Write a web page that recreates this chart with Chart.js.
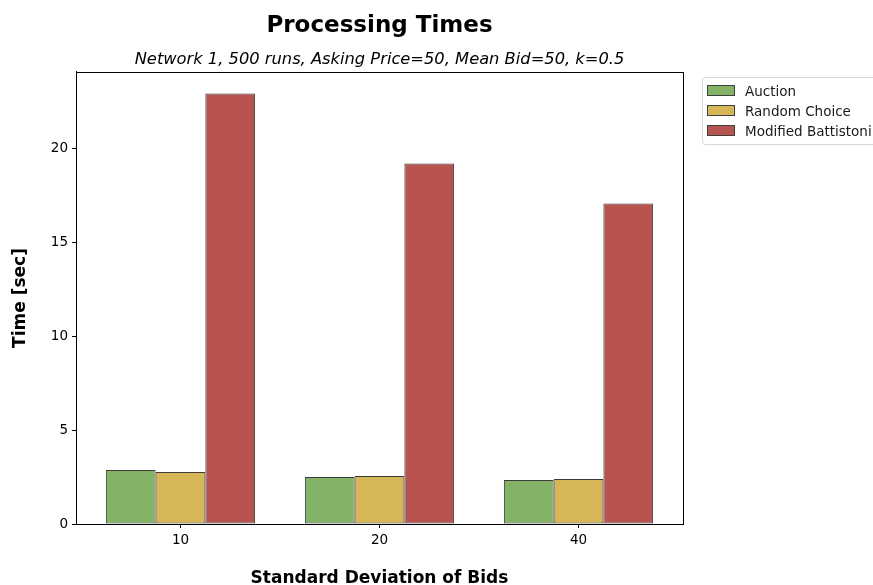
<!DOCTYPE html>
<html>
<head>
<meta charset="utf-8">
<script src="https://cdn.jsdelivr.net/npm/chart.js@4"></script>
<style>
html,body{margin:0;padding:0;background:#fff;overflow:hidden;}
#wrap{width:873px;height:585px;position:relative;}
</style>
</head>
<body>
<div id="wrap"><canvas id="c" width="873" height="585"></canvas></div>
<script>
const categories = ["10", "20", "40"];
const seriesNames = ["Auction", "Random Choice", "Modified Battistoni"];
const auction = [2.87, 2.50, 2.34];
const randomChoice = [2.77, 2.56, 2.40];
const modifiedBattistoni = [22.93, 19.20, 17.07];
const yTicks = [0, 5, 10, 15, 20];
const colors = ["#82b366", "#d6b656", "#b85450"];

const FONT = "'DejaVu Sans', sans-serif";

// category scale with matplotlib-like margins (5% of bar extent on each side)
class PaddedCategoryScale extends Chart.CategoryScale {
  configure() {
    super.configure();
    const extra = 0.0125;
    this._startValue -= extra;
    this._valueRange += 2 * extra;
  }
}
PaddedCategoryScale.id = 'paddedCategory';
PaddedCategoryScale.defaults = Chart.CategoryScale.defaults;
Chart.register(PaddedCategoryScale);

const framePlugin = {
  id: 'frame',
  afterDraw(chart) {
    const ctx = chart.ctx, a = chart.chartArea;
    ctx.save();
    ctx.strokeStyle = '#000';
    ctx.lineWidth = 1;
    ctx.strokeRect(Math.round(a.left) + 0.5, Math.round(a.top) + 0.5, Math.round(a.right - a.left), Math.round(a.bottom - a.top));
    ctx.restore();
  }
};

const legendPlugin = {
  id: 'outsideLegend',
  afterDraw(chart) {
    const ctx = chart.ctx;
    const x0 = 702.5, y0 = 77.5, w = 200, h = 67;
    ctx.save();
    ctx.fillStyle = 'rgba(255,255,255,0.8)';
    ctx.strokeStyle = '#d6d6d6';
    ctx.lineWidth = 1;
    ctx.beginPath();
    if (ctx.roundRect) ctx.roundRect(x0, y0, w, h, 3); else ctx.rect(x0, y0, w, h);
    ctx.fill();
    ctx.stroke();
    ctx.font = "13.5px " + FONT;
    ctx.textBaseline = 'middle';
    chart.data.datasets.forEach((ds, i) => {
      const cy = 91 + i * 20;
      ctx.fillStyle = ds.backgroundColor;
      ctx.fillRect(707, cy - 6, 28, 11);
      ctx.strokeStyle = '#404040';
      ctx.strokeRect(707.5, cy - 5.5, 27, 10);
      ctx.fillStyle = '#1a1a1a';
      ctx.fillText(ds.label, 745, cy + 1);
    });
    ctx.restore();
  }
};

new Chart(document.getElementById('c'), {
  type: 'bar',
  data: {
    labels: categories,
    datasets: [
      { label: seriesNames[0], data: auction, backgroundColor: colors[0] },
      { label: seriesNames[1], data: randomChoice, backgroundColor: colors[1] },
      { label: seriesNames[2], data: modifiedBattistoni, backgroundColor: colors[2] }
    ].map(d => Object.assign(d, { borderColor: '#3a3a3a', borderWidth: 1, borderSkipped: false, barPercentage: 1, categoryPercentage: 0.75 }))
  },
  options: {
    responsive: false,
    animation: false,
    devicePixelRatio: 1,
    layout: { padding: { left: 0, right: 190, top: 0, bottom: 0 } },
    plugins: {
      legend: { display: false },
      tooltip: { enabled: false },
      title: {
        display: true,
        text: 'Processing Times',
        fullSize: false,
        color: '#000',
        font: { family: FONT, size: 23, weight: 'bold', lineHeight: 1.15 },
        padding: { top: 12.8, bottom: 5 }
      },
      subtitle: {
        display: true,
        text: 'Network 1, 500 runs, Asking Price=50, Mean Bid=50, k=0.5',
        fullSize: false,
        color: '#000',
        font: { family: FONT, size: 16.3, style: 'italic', lineHeight: 1.2 },
        padding: { top: 5.7, bottom: 2.4 }
      }
    },
    scales: {
      x: {
        type: 'paddedCategory',
        offset: true,
        grid: { display: true, drawOnChartArea: false, drawTicks: true, tickLength: 4, color: '#000', offset: false },
        border: { display: true, color: '#000' },
        ticks: { color: '#000', font: { family: FONT, size: 13.5 }, padding: 4, maxRotation: 0 },
        title: { display: true, text: 'Standard Deviation of Bids', color: '#000', font: { family: FONT, size: 17, weight: 'bold' }, padding: { top: 0, bottom: -4 } },
        afterFit(s) { s.height = 61; }
      },
      y: {
        min: 0,
        max: 24.08,
        afterBuildTicks(s) { s.ticks = yTicks.map(v => ({ value: v })); },
        grid: { display: true, drawOnChartArea: false, drawTicks: true, tickLength: 4, color: '#000' },
        border: { display: true, color: '#000' },
        ticks: { color: '#000', font: { family: FONT, size: 13.5 }, padding: 4 },
        title: { display: true, text: 'Time [sec]', color: '#000', font: { family: FONT, size: 17, weight: 'bold' }, padding: { top: 10, bottom: 0 } },
        afterFit(s) { s.width = 76; }
      }
    }
  },
  plugins: [framePlugin, legendPlugin]
});
</script>
</body>
</html>
